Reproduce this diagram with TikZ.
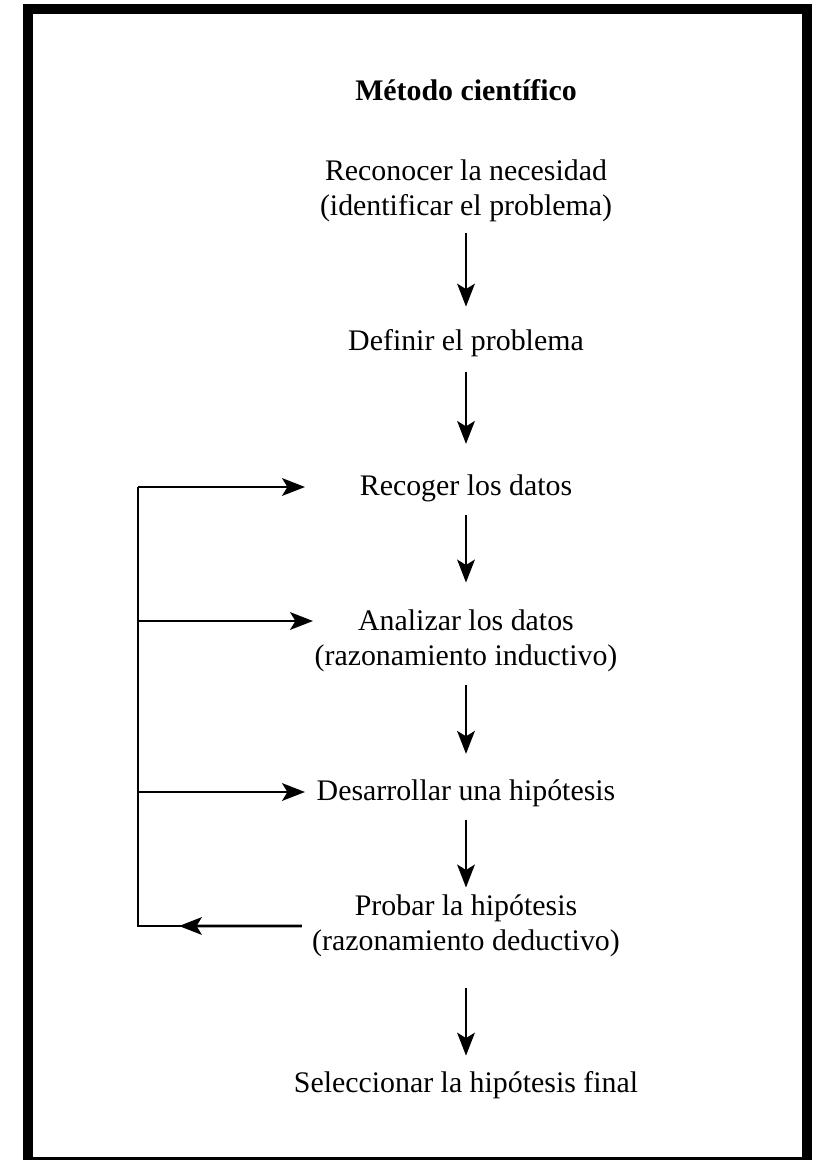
\documentclass[tikz,border=0pt]{standalone}
\usepackage{fontspec}
\setmainfont{Liberation Serif}
\usetikzlibrary{arrows.meta, calc}

\tikzset{
  paso/.style={font=\fontsize{17}{20}\selectfont, align=center, inner xsep=0.2cm, inner ysep=0pt},
  titulo/.style={font=\fontsize{17}{20}\selectfont\bfseries, inner sep=0pt},
  linea/.style={line width=1.6pt},
  flecha/.style={linea, ->},
}

\begin{document}
\begin{tikzpicture}[x=0.02cm, y=-0.02cm, >={Stealth[length=13pt, width=10pt, inset=3pt]}]
\useasboundingbox (0, 0) rectangle (815, 1160);
% marco
\draw[line width=0.2cm] (28, 9) rectangle (806.5, 1162);

% pasos
\node[titulo, anchor=base] (tit) at (466, 100) {Método científico};
\node[paso] (rec) at (466, 191) {Reconocer la necesidad\\(identificar el problema)};
\node[paso, anchor=base] (def) at (466, 350) {Definir el problema};
\node[paso, anchor=base] (rcg) at (466, 495) {Recoger los datos};
\node[paso] (ana) at (466, 641) {Analizar los datos\\(razonamiento inductivo)};
\node[paso, anchor=base] (des) at (466, 800) {Desarrollar una hipótesis};
\node[paso] (prb) at (466, 926) {Probar la hipótesis\\(razonamiento deductivo)};
\node[paso, anchor=base] (sel) at (466, 1092) {Seleccionar la hipótesis final};

\foreach \a/\b/\s/\e in {rec/def/11/22, def/rcg/15/30, rcg/ana/13/27, ana/des/13/25, des/prb/13/7, prb/sel/31/15}
  \draw[flecha, shorten <=\s*0.02cm, shorten >=\e*0.02cm] (\a) -- (\b);

% retorno
\coordinate (esq1) at (138, 487);
\coordinate (esq2) at (esq1 |- prb.west);
\coordinate (ent1) at (305, 487);
\coordinate (ent2) at (313, 621);
\coordinate (ent3) at (305, 792);
\draw[linea] (prb.west) -- (esq2) -- (esq1);
\draw[flecha] (prb.west) -- ($(prb.west)!0.75!(esq2)$);
\foreach \c in {ent1, ent2, ent3}
  \draw[flecha] (esq1 |- \c) -- (\c);
\end{tikzpicture}
\end{document}
